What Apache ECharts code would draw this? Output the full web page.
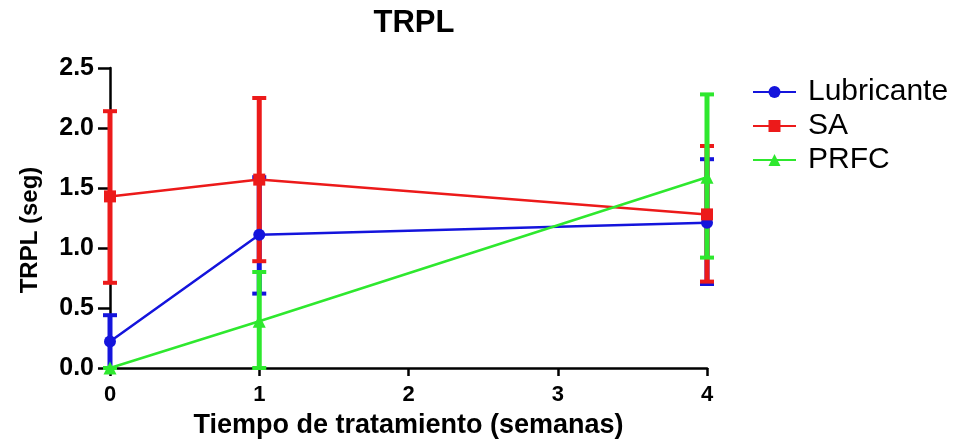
<!DOCTYPE html>
<html><head><meta charset="utf-8">
<script src="https://cdn.jsdelivr.net/npm/echarts@6/dist/echarts.min.js"></script>
<style>html,body{margin:0;padding:0;background:#fff}#c{width:972px;height:444px}</style>
</head><body><div id="c"></div>
<script>
const weeks = [0, 1, 4];
const seriesNames = ['Lubricante', 'SA', 'PRFC'];
const lubMean = [0.22, 1.11, 1.21];
const lubLow  = [0.00, 0.62, 0.70];
const lubHigh = [0.44, 1.59, 1.74];
const saMean = [1.43, 1.57, 1.28];
const saLow  = [0.71, 0.89, 0.72];
const saHigh = [2.14, 2.25, 1.85];
const prfcMean = [0.00, 0.39, 1.59];
const prfcLow  = [0.00, 0.00, 0.92];
const prfcHigh = [0.00, 0.80, 2.28];
const yTicks = [0, 0.5, 1.0, 1.5, 2.0, 2.5];
const xTicks = [0, 1, 2, 3, 4];

const colors = ['#1414dc', '#ec1a1a', '#2ee82e'];
const symbols = ['circle', 'rect', 'triangle'];
const means = [lubMean, saMean, prfcMean];
const lows = [lubLow, saLow, prfcLow];
const highs = [lubHigh, saHigh, prfcHigh];
const font = 'Liberation Sans, Arial, sans-serif';

const chart = echarts.init(document.getElementById('c'));
const series = [];
seriesNames.forEach((name, i) => {
  series.push({
    name: name + '_err',
    type: 'custom',
    z: 2 + i,
    data: weeks.map((w, k) => [w, lows[i][k], highs[i][k]]),
    renderItem: (params, api) => {
      const x = api.value(0);
      const lo = api.coord([x, api.value(1)]);
      const hi = api.coord([x, api.value(2)]);
      const w = 7;
      const st = { stroke: colors[i], lineWidth: 5 };
      const capSt = { stroke: colors[i], lineWidth: 4 };
      return { type: 'group', children: [
        { type: 'line', shape: { x1: lo[0], y1: lo[1], x2: hi[0], y2: hi[1] }, style: st },
        { type: 'line', shape: { x1: hi[0] - w, y1: hi[1], x2: hi[0] + w, y2: hi[1] }, style: capSt },
        { type: 'line', shape: { x1: lo[0] - w, y1: lo[1], x2: lo[0] + w, y2: lo[1] }, style: capSt }
      ]};
    },
    silent: true,
    clip: false
  });
});
seriesNames.forEach((name, i) => {
  series.push({
    name: name,
    type: 'line',
    z: 10 + i,
    data: weeks.map((w, k) => [w, means[i][k]]),
    symbol: symbols[i],
    symbolSize: i === 2 ? 13 : 12,
    showSymbol: true,
    lineStyle: { color: colors[i], width: 2.5 },
    itemStyle: { color: colors[i] },
    animation: false
  });
});

chart.setOption({
  animation: false,
  textStyle: { fontFamily: font },
  title: {
    text: 'TRPL', left: 409, top: 3, textAlign: 'center',
    textStyle: { fontSize: 31, fontWeight: 'bold', color: '#000', fontFamily: font }
  },
  legend: {
    data: seriesNames,
    orient: 'vertical',
    left: 747, top: 72,
    itemWidth: 43, itemHeight: 15, itemGap: 4,
    textStyle: { fontSize: 30, color: '#000', fontFamily: font, padding: [0, 0, 0, 7] }
  },
  grid: { left: 110, right: 265, top: 68, bottom: 74 },
  xAxis: {
    type: 'value', min: 0, max: 4, interval: 1,
    name: 'Tiempo de tratamiento (semanas)', nameLocation: 'middle', nameGap: 44,
    nameTextStyle: { fontSize: 27, fontWeight: 'bold', color: '#000', fontFamily: font },
    axisLine: { show: true, onZero: false, lineStyle: { color: '#000', width: 2.5 } },
    axisTick: { show: true, length: 8, lineStyle: { color: '#000', width: 2.5 } },
    axisLabel: { fontSize: 22, fontWeight: 'bold', color: '#000', margin: 16, fontFamily: font,
      formatter: v => xTicks.includes(v) ? String(v) : '' },
    splitLine: { show: false }
  },
  yAxis: {
    type: 'value', min: 0, max: 2.5, interval: 0.5,
    name: 'TRPL (seg)', nameLocation: 'middle', nameGap: 68, nameRotate: 90,
    nameTextStyle: { fontSize: 24, fontWeight: 'bold', color: '#000', fontFamily: font, padding: [0, 24, 0, 0] },
    axisLine: { show: true, onZero: false, lineStyle: { color: '#000', width: 2.5 } },
    axisTick: { show: true, length: 12, lineStyle: { color: '#000', width: 2.5 } },
    axisLabel: { fontSize: 25, fontWeight: 'bold', color: '#000', margin: 16, fontFamily: font,
      formatter: v => { const t = yTicks.find(t => Math.abs(t - v) < 1e-9); return t === undefined ? '' : t.toFixed(1); } },
    splitLine: { show: false }
  },
  series: series
});
</script></body></html>
